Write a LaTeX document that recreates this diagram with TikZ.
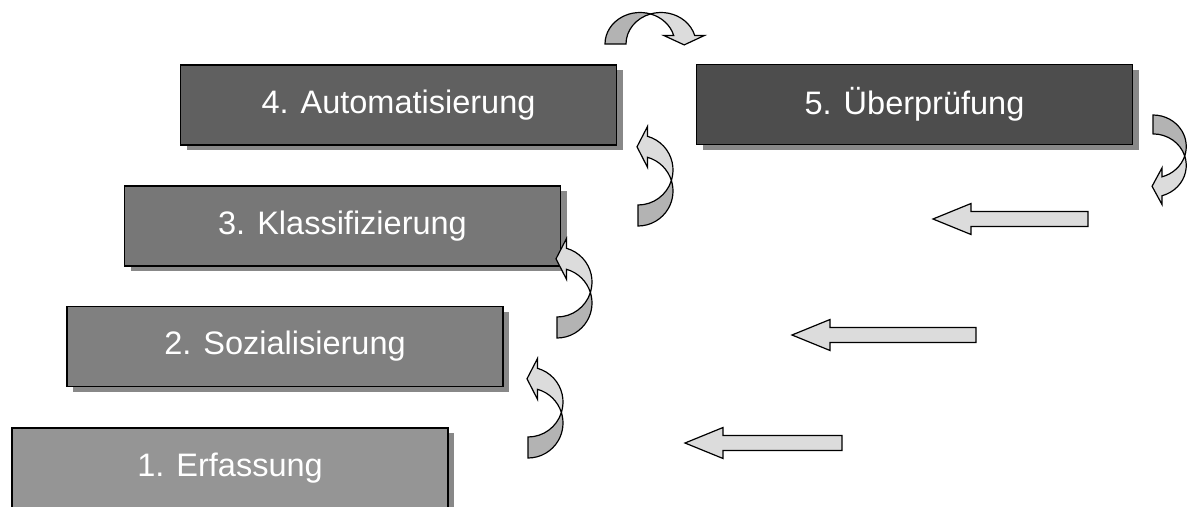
\documentclass[tikz,border=0pt]{standalone}
\usepackage{fontspec}
\setmainfont{Liberation Sans}
\usetikzlibrary{shadows}
\definecolor{stageone}{HTML}{959595}
\definecolor{stagetwo}{HTML}{808080}
\definecolor{stagethree}{HTML}{777777}
\definecolor{stagefour}{HTML}{606060}
\definecolor{stagefive}{HTML}{4D4D4D}
\definecolor{shadowgray}{HTML}{888888}
\definecolor{arrowlight}{HTML}{DCDCDC}
\definecolor{arrowdark}{HTML}{B3B3B3}
\tikzset{
  % grey step box with drop shadow
  stage/.style={rectangle, fill=#1, draw=black, line width=1.6pt,
                minimum width=436pt, minimum height=80pt, inner sep=0pt,
                text=white, font=\fontsize{32.5}{39}\selectfont,
                drop shadow={shadow xshift=6pt, shadow yshift=-5pt,
                             fill=shadowgray, opacity=1}},
  % outline of the block arrows
  blockarr/.style={draw=black, line width=1.2pt, line join=miter},
  % straight arrow pointing left, #1 = length
  pics/flatarrow/.style={code={
    \draw[blockarr, fill=arrowlight] (0,0) -- (38,-15.5) -- (38,-7.5)
      -- (#1,-7.5) -- (#1,7.5) -- (38,7.5) -- (38,15.5) -- cycle;}},
  % u-turn arrow, tail at the origin, head comes back to the left
  pics/turnarrow/.style={code={
    \begin{scope}[x=1pt, y=1pt]
      \draw[blockarr, fill=arrowlight] (33.39,45.5)
        arc[start angle=-17.46, end angle=74.25, radius=35]
        -- (9.5,99.5) -- (-1,79.2) -- (9.5,58.7) -- (9.5,68.69)
        arc[start angle=74.25, end angle=17.46, radius=35] -- cycle;
      \draw[blockarr, fill=arrowdark] (0,0)
        arc[start angle=-90, end angle=17.46, radius=35]
        arc[start angle=-17.46, end angle=-90, radius=35] -- cycle;
    \end{scope}}},
}
\begin{document}
\begin{tikzpicture}[x=1pt, y=-1pt]
  \useasboundingbox (0,0) rectangle (1188,506);

  % the five steps
  \node[stage=stageone] (s1) at (230,468) {1. Erfassung};
  \node[stage=stagetwo] (s2) at (285,346.5) {2. Sozialisierung};
  \node[stage=stagethree] (s3) at (342.5,226) {3. Klassifizierung};
  \node[stage=stagefour] (s4) at (398.5,105) {4. Automatisierung};
  \node[stage=stagefive] (s5) at (914.5,104.5) {5. Überprüfung};

  % turning arrows
  \pic at (528,458) {turnarrow};
  \pic at (557,338) {turnarrow};
  \pic at (638,226) {turnarrow};
  \pic[rotate=-90, xscale=-0.9] at (605,44) {turnarrow};
  \pic[xscale=0.95, yscale=-0.9] at (1153,115) {turnarrow};

  % straight arrows back to the left
  \foreach \tipx/\tipy/\len in {685/443/157, 792/335/184, 933/219/155}
    \pic at (\tipx,\tipy) {flatarrow=\len};
\end{tikzpicture}
\end{document}
